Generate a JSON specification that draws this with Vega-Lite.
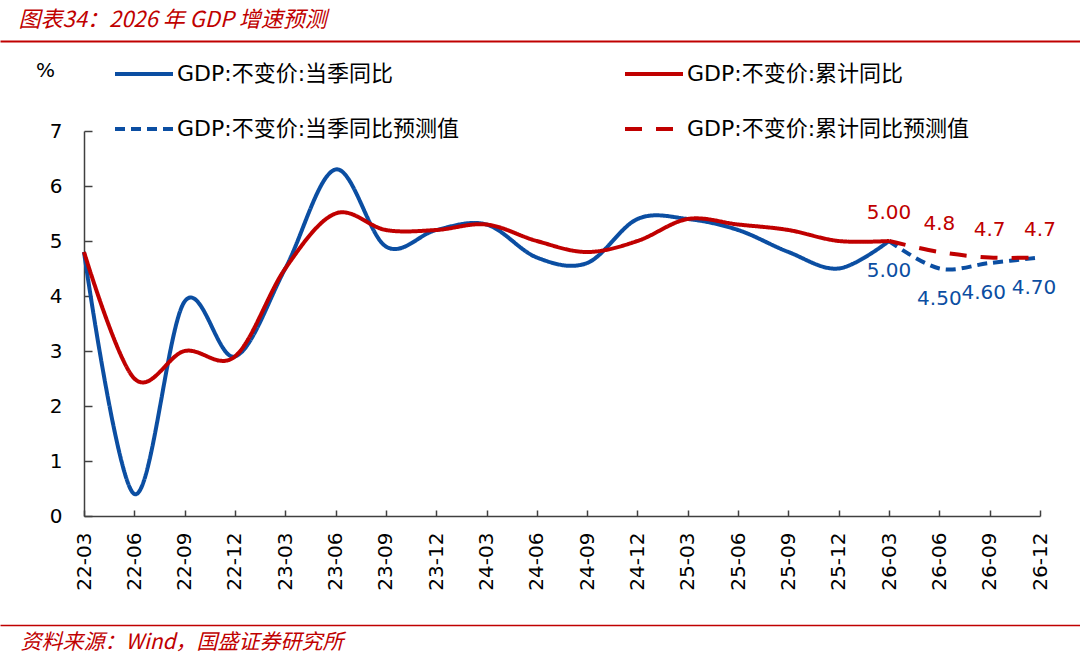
{
  "$schema": "https://vega.github.io/schema/vega-lite/v6.json",
  "width": 956,
  "height": 385,
  "autosize": {"type": "none"},
  "padding": {"left": 84, "top": 131, "right": 40, "bottom": 138},
  "background": "white",
  "config": {
    "view": {"stroke": null},
    "font": "DejaVu Sans, Noto Sans CJK SC",
    "axis": {"grid": false}
  },
  "data": {"name": "gdp"},
  "datasets": {
    "gdp": [
      {"quarter": "22-03", "series": "GDP:不变价:当季同比", "value": 4.8},
      {"quarter": "22-06", "series": "GDP:不变价:当季同比", "value": 0.4},
      {"quarter": "22-09", "series": "GDP:不变价:当季同比", "value": 3.9},
      {"quarter": "22-12", "series": "GDP:不变价:当季同比", "value": 2.9},
      {"quarter": "23-03", "series": "GDP:不变价:当季同比", "value": 4.5},
      {"quarter": "23-06", "series": "GDP:不变价:当季同比", "value": 6.3},
      {"quarter": "23-09", "series": "GDP:不变价:当季同比", "value": 4.9},
      {"quarter": "23-12", "series": "GDP:不变价:当季同比", "value": 5.2},
      {"quarter": "24-03", "series": "GDP:不变价:当季同比", "value": 5.3},
      {"quarter": "24-06", "series": "GDP:不变价:当季同比", "value": 4.7},
      {"quarter": "24-09", "series": "GDP:不变价:当季同比", "value": 4.6},
      {"quarter": "24-12", "series": "GDP:不变价:当季同比", "value": 5.4},
      {"quarter": "25-03", "series": "GDP:不变价:当季同比", "value": 5.4},
      {"quarter": "25-06", "series": "GDP:不变价:当季同比", "value": 5.2},
      {"quarter": "25-09", "series": "GDP:不变价:当季同比", "value": 4.8},
      {"quarter": "25-12", "series": "GDP:不变价:当季同比", "value": 4.5},
      {"quarter": "26-03", "series": "GDP:不变价:当季同比", "value": 5.0},
      {"quarter": "26-03", "series": "GDP:不变价:当季同比预测值", "value": 5.0, "label": "5.00"},
      {"quarter": "26-06", "series": "GDP:不变价:当季同比预测值", "value": 4.5, "label": "4.50"},
      {"quarter": "26-09", "series": "GDP:不变价:当季同比预测值", "value": 4.6, "label": "4.60"},
      {"quarter": "26-12", "series": "GDP:不变价:当季同比预测值", "value": 4.7, "label": "4.70"},
      {"quarter": "22-03", "series": "GDP:不变价:累计同比", "value": 4.8},
      {"quarter": "22-06", "series": "GDP:不变价:累计同比", "value": 2.5},
      {"quarter": "22-09", "series": "GDP:不变价:累计同比", "value": 3.0},
      {"quarter": "22-12", "series": "GDP:不变价:累计同比", "value": 2.9},
      {"quarter": "23-03", "series": "GDP:不变价:累计同比", "value": 4.5},
      {"quarter": "23-06", "series": "GDP:不变价:累计同比", "value": 5.5},
      {"quarter": "23-09", "series": "GDP:不变价:累计同比", "value": 5.2},
      {"quarter": "23-12", "series": "GDP:不变价:累计同比", "value": 5.2},
      {"quarter": "24-03", "series": "GDP:不变价:累计同比", "value": 5.3},
      {"quarter": "24-06", "series": "GDP:不变价:累计同比", "value": 5.0},
      {"quarter": "24-09", "series": "GDP:不变价:累计同比", "value": 4.8},
      {"quarter": "24-12", "series": "GDP:不变价:累计同比", "value": 5.0},
      {"quarter": "25-03", "series": "GDP:不变价:累计同比", "value": 5.4},
      {"quarter": "25-06", "series": "GDP:不变价:累计同比", "value": 5.3},
      {"quarter": "25-09", "series": "GDP:不变价:累计同比", "value": 5.2},
      {"quarter": "25-12", "series": "GDP:不变价:累计同比", "value": 5.0},
      {"quarter": "26-03", "series": "GDP:不变价:累计同比", "value": 5.0},
      {"quarter": "26-03", "series": "GDP:不变价:累计同比预测值", "value": 5.0, "label": "5.00"},
      {"quarter": "26-06", "series": "GDP:不变价:累计同比预测值", "value": 4.8, "label": "4.8"},
      {"quarter": "26-09", "series": "GDP:不变价:累计同比预测值", "value": 4.7, "label": "4.7"},
      {"quarter": "26-12", "series": "GDP:不变价:累计同比预测值", "value": 4.7, "label": "4.7"}
    ]
  },
  "layer": [
    {
      "mark": {"type": "point", "opacity": 0},
      "encoding": {
        "x": {
          "field": "quarter",
          "type": "ordinal",
          "scale": {"range": [-84, 996]},
          "axis": {
            "orient": "top",
            "offset": 90,
            "domainColor": "#C00000",
            "domainWidth": 2,
            "ticks": false,
            "labels": false,
            "title": "图表34：2026 年 GDP 增速预测",
            "titleAngle": 0,
            "titleX": -66,
            "titleY": -15,
            "titleAlign": "left",
            "titleBaseline": "alphabetic",
            "titleFont": "Noto Sans CJK SC",
            "titleFontStyle": "italic",
            "titleFontWeight": "normal",
            "titleFontSize": 22,
            "titleColor": "#C00000"
          }
        }
      }
    },
    {
      "mark": {"type": "point", "opacity": 0},
      "encoding": {
        "x": {
          "field": "quarter",
          "type": "ordinal",
          "scale": {"range": [-84, 996]},
          "axis": {
            "orient": "bottom",
            "offset": 109,
            "domainColor": "#C00000",
            "domainWidth": 1.5,
            "ticks": false,
            "labels": false,
            "title": "资料来源：Wind，国盛证券研究所",
            "titleAngle": 0,
            "titleX": -64,
            "titleY": 23,
            "titleAlign": "left",
            "titleBaseline": "alphabetic",
            "titleFont": "Noto Sans CJK SC",
            "titleFontStyle": "italic",
            "titleFontWeight": "normal",
            "titleFontSize": 21,
            "titleColor": "#C00000"
          }
        }
      }
    },
    {
      "encoding": {
        "x": {
          "field": "quarter",
          "type": "ordinal",
          "scale": {"padding": 0},
          "axis": {
            "orient": "bottom",
            "title": null,
            "labelAngle": -90,
            "labelFont": "DejaVu Sans",
            "labelFontSize": 20,
            "labelColor": "#000000",
            "labelOverlap": false,
            "labelPadding": 22,
            "domainColor": "#404040",
            "domainWidth": 1.5,
            "tickColor": "#404040",
            "tickWidth": 1.5,
            "tickSize": -6
          }
        },
        "y": {
          "field": "value",
          "type": "quantitative",
          "scale": {"domain": [0, 7], "nice": false},
          "axis": {
            "values": [0, 1, 2, 3, 4, 5, 6, 7],
            "title": "%",
            "titleAngle": 0,
            "titleX": -39,
            "titleY": -61,
            "titleAlign": "center",
            "titleBaseline": "middle",
            "titleFont": "DejaVu Sans",
            "titleFontSize": 20,
            "titleFontWeight": "normal",
            "titleColor": "#000000",
            "labelFont": "DejaVu Sans",
            "labelFontSize": 20,
            "labelColor": "#000000",
            "labelPadding": 30,
            "domainColor": "#404040",
            "domainWidth": 1.5,
            "tickColor": "#404040",
            "tickWidth": 1.5,
            "tickSize": -8
          }
        }
      },
      "layer": [
        {
          "transform": [{"filter": "indexof(datum.series, '当季') >= 0"}],
          "mark": {"type": "line", "interpolate": "cardinal", "strokeWidth": 4},
          "encoding": {
            "color": {
              "field": "series",
              "type": "nominal",
              "sort": null,
              "scale": {
                "domain": ["GDP:不变价:当季同比", "GDP:不变价:当季同比预测值", "GDP:不变价:累计同比", "GDP:不变价:累计同比预测值"],
                "range": ["#0B4EA2", "#0B4EA2", "#C00000", "#C00000"]
              },
              "legend": {
                "title": null,
                "values": ["GDP:不变价:当季同比", "GDP:不变价:当季同比预测值", "GDP:不变价:累计同比", "GDP:不变价:累计同比预测值"],
                "orient": "none",
                "direction": "vertical",
                "legendX": 29,
                "legendY": -88,
                "columns": 2,
                "columnPadding": 157,
                "rowPadding": 13,
                "padding": 0,
                "symbolType": "stroke",
                "symbolSize": 3364,
                "symbolStrokeWidth": 4,
                "labelFont": "DejaVu Sans, Noto Sans CJK SC",
                "labelFontSize": 22,
                "labelColor": "#000000",
                "labelLimit": 500,
                "labelOffset": 2
              }
            },
            "strokeDash": {
              "field": "series",
              "type": "nominal",
              "sort": null,
              "scale": {
                "domain": ["GDP:不变价:当季同比", "GDP:不变价:当季同比预测值", "GDP:不变价:累计同比", "GDP:不变价:累计同比预测值"],
                "range": [[1, 0], [10, 6], [1, 0], [17, 14]]
              },
              "legend": {
                "title": null,
                "values": ["GDP:不变价:当季同比", "GDP:不变价:当季同比预测值", "GDP:不变价:累计同比", "GDP:不变价:累计同比预测值"],
                "orient": "none",
                "direction": "vertical",
                "legendX": 29,
                "legendY": -88,
                "columns": 2,
                "columnPadding": 157,
                "rowPadding": 13,
                "padding": 0,
                "symbolType": "stroke",
                "symbolSize": 3364,
                "symbolStrokeWidth": 4,
                "labelFont": "DejaVu Sans, Noto Sans CJK SC",
                "labelFontSize": 22,
                "labelColor": "#000000",
                "labelLimit": 500,
                "labelOffset": 2
              }
            }
          }
        },
        {
          "transform": [{"filter": "indexof(datum.series, '累计') >= 0"}],
          "mark": {"type": "line", "interpolate": "cardinal", "strokeWidth": 4},
          "encoding": {
            "color": {
              "field": "series",
              "type": "nominal",
              "sort": null,
              "scale": {
                "domain": ["GDP:不变价:当季同比", "GDP:不变价:当季同比预测值", "GDP:不变价:累计同比", "GDP:不变价:累计同比预测值"]
              }
            },
            "strokeDash": {
              "field": "series",
              "type": "nominal",
              "sort": null,
              "scale": {
                "domain": ["GDP:不变价:当季同比", "GDP:不变价:当季同比预测值", "GDP:不变价:累计同比", "GDP:不变价:累计同比预测值"]
              }
            }
          }
        },
        {
          "transform": [{"filter": "datum.series === 'GDP:不变价:累计同比预测值'"}],
          "mark": {"type": "text", "dy": -28, "fontSize": 20, "font": "DejaVu Sans", "color": "#C00000"},
          "encoding": {"text": {"field": "label"}}
        },
        {
          "transform": [{"filter": "datum.series === 'GDP:不变价:当季同比预测值' && (datum.quarter === '26-03' || datum.quarter === '26-06')"}],
          "mark": {"type": "text", "dy": 30, "fontSize": 20, "font": "DejaVu Sans", "color": "#0B4EA2"},
          "encoding": {"text": {"field": "label"}}
        },
        {
          "transform": [{"filter": "datum.series === 'GDP:不变价:当季同比预测值' && (datum.quarter === '26-09' || datum.quarter === '26-12')"}],
          "mark": {"type": "text", "dx": -6, "dy": 30, "fontSize": 20, "font": "DejaVu Sans", "color": "#0B4EA2"},
          "encoding": {"text": {"field": "label"}}
        }
      ]
    }
  ],
  "resolve": {"scale": {"x": "independent"}, "axis": {"x": "independent"}}
}
